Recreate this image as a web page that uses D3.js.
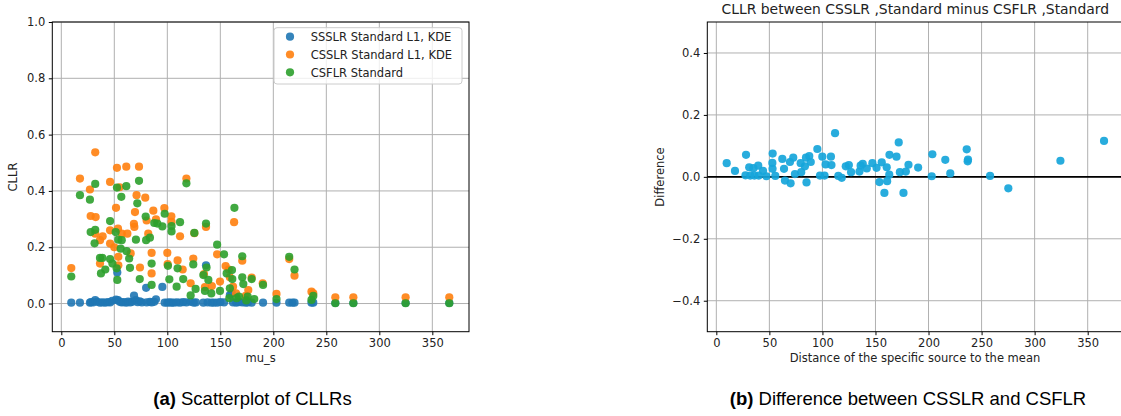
<!DOCTYPE html>
<html><head><meta charset="utf-8">
<script src="https://cdn.jsdelivr.net/npm/d3@7"></script>
<style>
body{margin:0;background:#fff;}
svg{display:block;}
text{font-family:"DejaVu Sans",sans-serif;fill:#222;}
.cap{font-family:"Liberation Sans",Arial,sans-serif;fill:#000;}
</style></head><body>
<svg id="c" width="1121" height="416"></svg>
<script>
// ---------- data ----------
const xTicks = [0, 50, 100, 150, 200, 250, 300, 350];
const yTicksA = [0.0, 0.2, 0.4, 0.6, 0.8, 1.0];
const yTicksB = [-0.4, -0.2, 0.0, 0.2, 0.4];
const seriesNames = ["SSSLR Standard L1, KDE", "CSSLR Standard L1, KDE", "CSFLR Standard"];
const seriesColors = ["#1f77b4", "#ff7f0e", "#2ca02c"];

const ssslr = [[9.4,0.003],[17.6,0.003],[27,0.003],[28,0.005],[30,0.004],[32,0.012],[34,0.006],[36.5,0.003],[39,0.004],[41.5,0.003],[44,0.005],[46,0.004],[48,0.01],[52.8,0.11],[51.6,0.014],[53.5,0.012],[55,0.006],[57,0.004],[59,0.005],[61.3,0.003],[63,0.007],[65,0.004],[67,0.006],[68.6,0.028],[70.4,0.012],[72,0.005],[74,0.008],[76,0.004],[80,0.056],[80.5,0.004],[83.6,0.006],[85.2,0.004],[87.7,0.006],[89.3,0.015],[95.3,0.059],[97.5,0.003],[100,0.003],[102,0.004],[104,0.003],[106,0.003],[109,0.004],[112,0.003],[115,0.005],[118,0.004],[122,0.006],[125,0.003],[127,0.004],[134,0.003],[136.5,0.136],[138,0.004],[141.5,0.003],[144,0.003],[147,0.003],[150,0.005],[153.5,0.004],[159,0.03],[160.7,0.037],[162,0.004],[165,0.003],[167.6,0.005],[170.7,0.004],[174,0.003],[176,0.004],[179.6,0.003],[190.3,0.003],[203,0.003],[215,0.003],[218,0.003],[220,0.003],[236,0.003],[237.7,0.003],[258.5,0.002],[275.5,0.002],[324.8,0.002],[366,0.002]];

const csslr = [[17.6,0.444],[32,0.537],[27,0.405],[46,0.432],[52.5,0.482],[61.3,0.486],[73.3,0.486],[55,0.413],[71,0.385],[79.2,0.376],[118,0.444],[9.4,0.126],[27.7,0.311],[32.4,0.307],[32,0.248],[36.5,0.225],[39,0.239],[36.5,0.142],[46,0.26],[46,0.213],[50,0.2],[51.6,0.34],[53.5,0.266],[53.8,0.166],[53.8,0.136],[57,0.248],[62.3,0.248],[65.4,0.178],[69.5,0.325],[68.9,0.272],[68.5,0.283],[74.2,0.128],[80.5,0.295],[82,0.248],[85.2,0.18],[85.2,0.107],[86.8,0.33],[89.3,0.299],[97.2,0.339],[100,0.18],[100.3,0.14],[103.8,0.31],[104,0.29],[109.7,0.153],[112,0.239],[114.5,0.121],[122,0.072],[124.5,0.16],[125.5,0.25],[134.6,0.105],[135.5,0.058],[136.5,0.272],[142,0.062],[147,0.175],[149.7,0.078],[155,0.133],[159,0.093],[158,0.121],[162,0.06],[163,0.289],[164.8,0.036],[170.7,0.152],[176.4,0.048],[174,0.027],[179.6,0.092],[190,0.072],[203,0.034],[215,0.158],[220,0.099],[236,0.042],[237.7,0.036],[258.5,0.022],[275.5,0.022],[324.8,0.022],[366,0.022]];

const csflr = [[17.6,0.385],[27,0.369],[32,0.425],[52.5,0.412],[61.3,0.417],[56.6,0.379],[73.3,0.436],[118,0.427],[9.4,0.096],[27.7,0.254],[32,0.262],[31.4,0.214],[36.5,0.162],[38.7,0.162],[37.4,0.107],[41.5,0.121],[46,0.293],[46,0.158],[48.2,0.142],[51.3,0.254],[52.2,0.125],[52.8,0.084],[53.8,0.227],[57,0.225],[56,0.195],[61.6,0.186],[64,0.16],[64.8,0.127],[70.4,0.227],[71.7,0.356],[74,0.087],[80,0.225],[79.6,0.309],[83.6,0.234],[85.2,0.142],[85.2,0.066],[87.7,0.286],[90.6,0.284],[95.3,0.274],[97.5,0.319],[100.6,0.134],[101.9,0.086],[104,0.275],[104,0.256],[108.8,0.06],[109.7,0.125],[112,0.289],[115,0.087],[122,0.029],[124.5,0.139],[125.5,0.251],[126.7,0.052],[134,0.101],[136.5,0.284],[137,0.128],[138.7,0.084],[135.5,0.045],[141.5,0.036],[147,0.209],[149.7,0.045],[153.5,0.175],[156,0.107],[159,0.054],[161,0.119],[161.3,0.087],[158.5,0.019],[163.3,0.34],[165.4,0.019],[167.6,0.025],[170.7,0.168],[170.7,0.093],[171.7,0.069],[175.8,0.025],[174.5,0.011],[179.6,0.087],[182,0.016],[190.3,0.066],[203,0.016],[215,0.166],[220,0.121],[236,0.013],[237.7,0.027],[258.5,0.001],[275.5,0.001],[324.8,0.001],[366,0.001]];

const diff = [[9.8,0.044],[17.6,0.019],[28,0.071],[27.5,0.005],[31,0.031],[32,0.004],[35,0.028],[39.5,0.036],[35.9,0.004],[44,0.019],[40,0.004],[47.2,0.002],[53.1,0.075],[52.8,0.045],[53,0.026],[55.6,0.003],[62.2,0.058],[63.8,0.026],[64.7,-0.012],[70,-0.021],[69.4,0.048],[72.5,0.062],[74.1,0.009],[79.5,0.044],[80,0.015],[83.5,0.034],[84.5,0.062],[85,-0.018],[87.6,0.067],[89,0.048],[95.2,0.09],[97.7,0.004],[99.9,0.065],[103,0.04],[102,0.004],[108,0.065],[108.5,0.038],[111.9,0.141],[115,0.003],[118.2,-0.003],[122,0.034],[124.9,0.038],[127,0.015],[134.9,0.017],[136,0.036],[138,0.042],[141.8,0.027],[147.1,0.044],[151,0.029],[153.7,-0.017],[155.9,0.047],[158.4,-0.052],[160.6,0.031],[161,-0.014],[163.2,0.071],[163,0.007],[169.8,0.065],[171.9,0.111],[173,0.015],[176.4,-0.052],[178.6,0.017],[181.1,0.039],[190.2,0.03],[203.6,0.073],[203,0.002],[215.8,0.055],[220.5,0.011],[236,0.089],[236.9,0.05],[237.2,0.056],[258,0.003],[275.2,-0.037],[324.3,0.052],[365.4,0.116]];

// ---------- drawing ----------
const svg = d3.select("#c");
const FS = 11.5;
const R = 4.1;

function panel(opts) {
  const g = svg.append("g");
  const x = d3.scaleLinear().domain([-8.5, 384.6]).range([opts.left, opts.right]);
  const y = d3.scaleLinear().domain(opts.ydom).range([opts.bottom, opts.top]);
  g.append("g").selectAll("line").data(xTicks).join("line")
    .attr("x1", d => x(d)).attr("x2", d => x(d))
    .attr("y1", opts.top).attr("y2", opts.bottom)
    .attr("stroke", "#b0b0b0").attr("stroke-width", 1);
  g.append("g").selectAll("line").data(opts.yticks).join("line")
    .attr("x1", opts.left).attr("x2", opts.right)
    .attr("y1", d => y(d)).attr("y2", d => y(d))
    .attr("stroke", "#b0b0b0").attr("stroke-width", 1);
  const fmt = d => d3.format(".1f")(d).replace("-", "\u2212");
  const ax = g.append("g").attr("transform", `translate(0,${opts.bottom})`)
    .call(d3.axisBottom(x).tickValues(xTicks).tickSize(3.5).tickPadding(3.5).tickFormat(d3.format("d")));
  const ay = g.append("g").attr("transform", `translate(${opts.left},0)`)
    .call(d3.axisLeft(y).tickValues(opts.yticks).tickSize(3.5).tickPadding(3.5).tickFormat(fmt));
  [ax, ay].forEach(a => {
    a.select(".domain").remove();
    a.selectAll("line").attr("stroke", "#000").attr("stroke-width", 1);
    a.selectAll("text").attr("font-family", "DejaVu Sans").attr("font-size", FS).attr("fill", "#222");
  });
  g.append("rect").attr("x", opts.left).attr("y", opts.top)
    .attr("width", opts.right - opts.left).attr("height", opts.bottom - opts.top)
    .attr("fill", "none").attr("stroke", "#000").attr("stroke-width", 1);
  return {g, x, y};
}

// ---- panel (a)
const A = panel({left: 52.3, right: 469, top: 22, bottom: 331.7, ydom: [-0.1, 1.0], yticks: yTicksA});
[ssslr, csslr, csflr].forEach((s, i) => {
  A.g.append("g").selectAll("circle").data(s).join("circle")
    .attr("cx", d => A.x(d[0])).attr("cy", d => A.y(d[1])).attr("r", R)
    .attr("fill", seriesColors[i]).attr("fill-opacity", 0.9);
});
svg.append("text").attr("x", 260.6).attr("y", 362).attr("text-anchor", "middle").attr("font-size", FS).text("mu_s");
svg.append("text").attr("transform", "translate(17,177) rotate(-90)").attr("text-anchor", "middle").attr("font-size", FS).text("CLLR");
const lg = svg.append("g");
lg.append("rect").attr("x", 274).attr("y", 27.7).attr("width", 188).attr("height", 56.3).attr("rx", 3)
  .attr("fill", "#fff").attr("fill-opacity", 0.8).attr("stroke", "#cccccc").attr("stroke-width", 1);
seriesNames.forEach((n, i) => {
  const cy = 36.7 + i * 17.8;
  lg.append("circle").attr("cx", 290).attr("cy", cy).attr("r", R).attr("fill", seriesColors[i]).attr("fill-opacity", 0.9);
  lg.append("text").attr("x", 310.7).attr("y", cy + 4.2).attr("font-size", FS).text(n);
});

// ---- panel (b)
const B = panel({left: 707.3, right: 1124.4, top: 22, bottom: 331.7, ydom: [-0.5, 0.5], yticks: yTicksB});
B.g.append("line").attr("x1", 707.3).attr("x2", 1124.4).attr("y1", B.y(0)).attr("y2", B.y(0))
  .attr("stroke", "#000").attr("stroke-width", 1.6);
B.g.append("g").selectAll("circle").data(diff).join("circle")
  .attr("cx", d => B.x(d[0])).attr("cy", d => B.y(d[1])).attr("r", R)
  .attr("fill", "#16a5da").attr("fill-opacity", 0.92);
svg.append("text").attr("x", 915.3).attr("y", 13.5).attr("text-anchor", "middle").attr("font-size", 13.9)
  .text("CLLR between CSSLR ,Standard minus CSFLR ,Standard");
svg.append("text").attr("x", 915).attr("y", 362).attr("text-anchor", "middle").attr("font-size", FS)
  .text("Distance of the specific source to the mean");
svg.append("text").attr("transform", "translate(664,177) rotate(-90)").attr("text-anchor", "middle").attr("font-size", FS).text("Difference");

const capA = svg.append("text").attr("class", "cap").attr("x", 252.5).attr("y", 405).attr("text-anchor", "middle").attr("font-size", 18.5);
capA.append("tspan").attr("font-weight", "bold").text("(a)");
capA.append("tspan").text(" Scatterplot of CLLRs");
const capB = svg.append("text").attr("class", "cap").attr("x", 908).attr("y", 405).attr("text-anchor", "middle").attr("font-size", 18.5);
capB.append("tspan").attr("font-weight", "bold").text("(b)");
capB.append("tspan").text(" Difference between CSSLR and CSFLR");
</script>
</body></html>
